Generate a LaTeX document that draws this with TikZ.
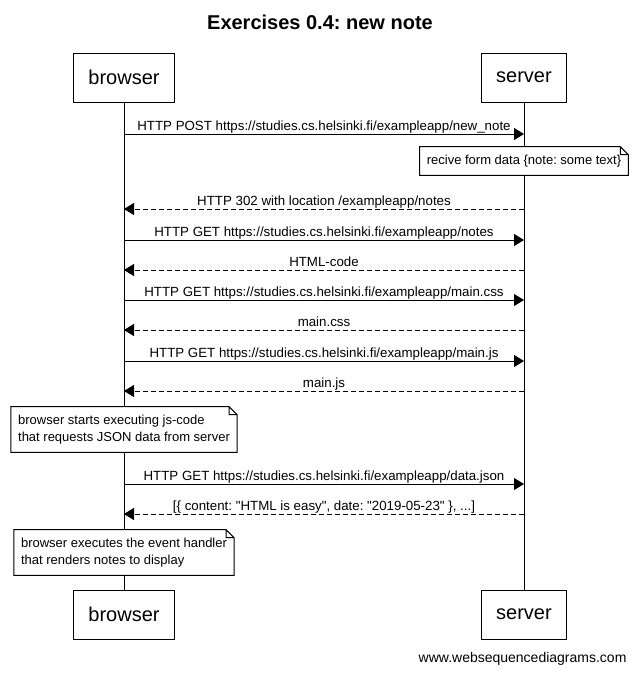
\documentclass[tikz,border=0pt]{standalone}
\usepackage{fontspec}
\setmainfont{Liberation Sans}[Ligatures=TeXOff]
\usetikzlibrary{arrows.meta,positioning}
\frenchspacing

\begin{document}
\begin{tikzpicture}[x=1pt,y=-1pt,
actor/.style={draw,line width=1pt,minimum height=49pt,inner xsep=15pt,font=\fontsize{20}{24}\selectfont},
note/.style={fill=white,align=left,inner xsep=7pt,inner ysep=8pt,font=\fontsize{13}{17}\selectfont},
req/.style={-{Triangle[length=10pt,width=12pt]},line width=1pt},
resp/.style={req,dash pattern=on 5pt off 3pt},
lbl/.style={font=\fontsize{13.3}{16}\selectfont,anchor=base,yshift=4pt,inner sep=0pt},
life/.style={line width=1pt}]
\useasboundingbox (0,0) rectangle (638,673);
\node[font=\bfseries\fontsize{20}{24}\selectfont] (title) at (320,22) {Exercises 0.4: new note};
\node[actor] (bt) at (124,77.5) {browser};
\node[actor] (st) at (524,77.5) {server};
\node[actor] (bb) at (124,614.5) {browser};
\node[actor] (sb) at (524,614.5) {server};
\draw[life] (bt) -- (bb);
\draw[life] (st) -- (sb);
\foreach \y [count=\i] in {134,209,240,270,300,330,361,391,484,514}{
  \coordinate (b\i) at (bt |- 0,\y);
  \coordinate (s\i) at (st |- 0,\y);
}
\draw[req] (b1) -- node[lbl]{HTTP POST https://studies.cs.helsinki.fi/exampleapp/new\_note} (s1);
\draw[resp] (s2) -- node[lbl]{HTTP 302 with location /exampleapp/notes} (b2);
\draw[req] (b3) -- node[lbl]{HTTP GET https://studies.cs.helsinki.fi/exampleapp/notes} (s3);
\draw[resp] (s4) -- node[lbl]{HTML-code} (b4);
\draw[req] (b5) -- node[lbl]{HTTP GET https://studies.cs.helsinki.fi/exampleapp/main.css} (s5);
\draw[resp] (s6) -- node[lbl]{main.css} (b6);
\draw[req] (b7) -- node[lbl]{HTTP GET https://studies.cs.helsinki.fi/exampleapp/main.js} (s7);
\draw[resp] (s8) -- node[lbl]{main.js} (b8);
\draw[req] (b9) -- node[lbl]{HTTP GET https://studies.cs.helsinki.fi/exampleapp/data.json} (s9);
\draw[resp] (s10) -- node[lbl]{[\{ content: "HTML is easy", date: "2019-05-23" \}, ...]} (b10);
\node[note] (n1) at (524,161) {recive form data \{note: some text\}};
\node[note] (n2) at (124,429.5) {browser starts executing js-code\\that requests JSON data from server};
\node[note] (n3) at (124,552.5) {browser executes the event handler\\that renders notes to display};
\foreach \n in {n1,n2,n3}
  \draw[line width=1pt] (\n.north west) -- ([xshift=-8pt]\n.north east) -- ([yshift=-8pt]\n.north east)
    -- (\n.south east) -- (\n.south west) -- cycle
    ([xshift=-8pt]\n.north east) |- ([yshift=-8pt]\n.north east);
\node[font=\fontsize{14}{17}\selectfont,anchor=base east] (wsd) at (630,662) {www.websequencediagrams.com};
\end{tikzpicture}
\end{document}
